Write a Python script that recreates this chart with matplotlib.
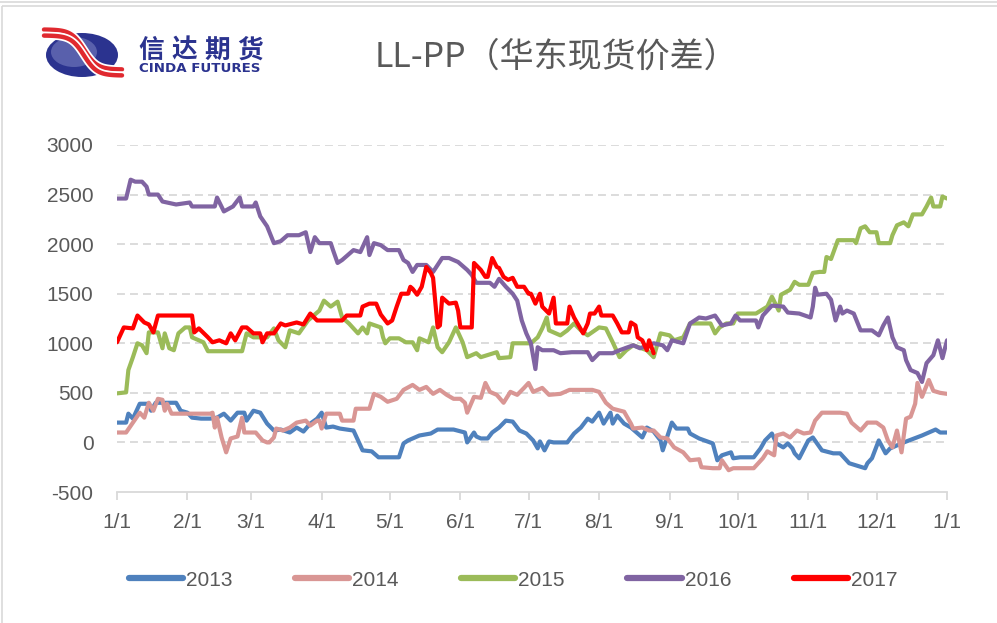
import numpy as np
import matplotlib
matplotlib.use("Agg")
import matplotlib.pyplot as plt
from matplotlib.patches import Ellipse, Rectangle
from matplotlib.lines import Line2D

# ---------------- data (day of year, value) ----------------
MONTH_START_DAYS = [0, 31, 59, 90, 120, 151, 181, 212, 243, 273, 304, 334, 365]
MONTH_LABELS = ["1/1", "2/1", "3/1", "4/1", "5/1", "6/1", "7/1", "8/1", "9/1",
                "10/1", "11/1", "12/1", "1/1"]
Y_TICKS = [-500, 0, 500, 1000, 1500, 2000, 2500, 3000]
SERIES_NAMES = ["2013", "2014", "2015", "2016", "2017"]
SERIES_COLORS = ["#4F81BD", "#D99694", "#9BBB59", "#8064A2", "#FF0000"]

S2013 = [(0,200),(4,200),(5,290),(7,240),(10,390),(14,390),(15,320),(17,400),(26,400),(28,320),
         (31,300),(33,250),(37,240),(41,240),(44,250),(47,290),(50,220),(53,300),(56,300),(57,220),
         (60,320),(63,300),(66,190),(69,120),(72,130),(76,100),(79,150),(82,110),(85,190),(88,240),
         (90,300),(92,150),(95,160),(98,140),(104,120),(106,20),(108,-80),(112,-90),(115,-150),
         (124,-150),(126,-10),(128,20),(133,70),(138,90),(141,130),(148,130),(153,100),(154,0),
         (157,100),(158,60),(160,40),(163,40),(165,100),(168,150),(171,220),(174,210),(177,120),
         (180,90),(183,20),(185,-60),(186,10),(188,-80),(190,10),(192,0),(198,0),(201,90),(204,150),
         (207,240),(209,210),(212,300),(214,190),(217,300),(218,190),(220,270),(223,190),(226,150),
         (231,50),(233,150),(236,110),(239,20),(240,-80),(244,200),(246,140),(251,140),(252,90),
         (256,40),(262,-10),(264,-180),(266,-130),(270,-100),(271,-160),(274,-150),(280,-150),
         (283,-60),(285,20),(288,90),(290,-10),(293,-50),(295,-10),(297,-60),(298,-110),(300,-160),
         (304,20),(306,50),(310,-80),(315,-110),(318,-110),(322,-210),(329,-260),(330,-210),
         (332,-160),(335,20),(338,-110),(340,-60),(346,0),(354,70),(360,130),(362,100),(365,100)]

S2014 = [(0,100),(4,100),(7,200),(10,300),(12,250),(14,400),(16,320),(18,440),(20,430),(21,320),
         (22,390),(24,290),(41,290),(42,300),(43,150),(44,250),(46,50),(48,-100),(50,40),(53,60),
         (55,250),(56,100),(61,100),(64,20),(66,0),(67,0),(69,50),(70,140),(73,120),(76,150),
         (79,200),(83,220),(85,170),(88,220),(89,220),(90,140),(92,290),(98,290),(99,220),(104,220),
         (105,340),(111,340),(113,490),(116,460),(119,410),(123,440),(126,530),(130,580),(133,530),
         (136,560),(139,490),(142,530),(145,480),(148,440),(151,440),(153,400),(154,300),(157,460),
         (160,450),(162,600),(164,510),(167,480),(170,400),(173,510),(176,480),(179,550),(181,600),
         (183,510),(187,550),(190,480),(195,490),(199,530),(204,530),(209,530),(212,510),(215,400),
         (218,340),(223,310),(226,190),(227,140),(231,150),(234,120),(236,120),(239,50),(242,40),
         (245,-50),(249,-100),(252,-180),(256,-170),(257,-250),(262,-260),(265,-260),(266,-180),
         (269,-280),(271,-260),(280,-260),(282,-210),(284,-160),(286,-90),(289,-130),(290,70),
         (293,90),(296,50),(299,120),(302,90),(305,100),(307,220),(310,300),(318,300),(321,290),
         (323,200),(327,120),(330,200),(334,200),(337,150),(339,20),(341,-50),(343,120),(345,-100),
         (347,240),(349,260),(351,390),(352,600),(354,460),(357,630),(359,520),(362,500),(365,490)]

S2015 = [(0,495),(4,505),(5,730),(7,860),(9,1000),(11,980),(13,900),(14,1110),(18,1110),(20,950),
         (21,1100),(23,950),(25,930),(27,1100),(30,1160),(32,1160),(33,1060),(38,1010),(40,920),
         (55,920),(57,1100),(60,1060),(66,1060),(69,1150),(71,1030),(74,960),(76,1130),(80,1100),
         (84,1230),(89,1330),(91,1430),(94,1370),(97,1420),(99,1260),(102,1200),(106,1100),
         (108,1160),(110,1100),(111,1200),(116,1160),(117,1060),(118,1000),(120,1050),(124,1050),
         (127,1010),(130,1010),(132,930),(133,1050),(137,1010),(139,1160),(141,960),(143,910),
         (146,1010),(149,1160),(152,1010),(154,860),(158,900),(160,860),(167,910),(168,850),
         (173,860),(174,1000),(182,1000),(185,1060),(187,1150),(189,1260),(190,1130),(195,1080),
         (198,1130),(201,1200),(204,1130),(207,1080),(212,1160),(215,1150),(218,1010),(221,860),
         (224,930),(227,980),(233,930),(236,860),(239,1100),(243,1080),(245,1030),(249,1060),
         (252,1200),(256,1200),(261,1200),(263,1100),(265,1160),(268,1200),(271,1200),(273,1300),
         (281,1300),(286,1370),(288,1470),(291,1330),(292,1490),(296,1540),(298,1620),(300,1590),
         (304,1590),(306,1710),(309,1720),(311,1720),(312,1870),(314,1850),(317,2040),(324,2040),
         (325,2010),(327,2160),(329,2180),(331,2120),(334,2120),(335,2010),(340,2010),(341,2090),
         (343,2190),(346,2220),(348,2180),(350,2300),(354,2300),(356,2380),(358,2470),(359,2380),
         (362,2380),(363,2480),(365,2460)]

S2016 = [(0,2460),(4,2460),(6,2650),(8,2630),(11,2630),(13,2580),(14,2500),(18,2500),(20,2430),
         (26,2400),(32,2420),(33,2380),(43,2380),(44,2470),(47,2330),(51,2380),(54,2470),(55,2380),
         (60,2380),(61,2420),(63,2280),(66,2180),(69,2010),(72,2030),(75,2090),(80,2090),(83,2120),
         (85,1920),(87,2070),(89,2010),(94,2010),(95,1940),(97,1810),(99,1840),(104,1940),(107,1920),
         (110,2070),(111,1890),(113,2010),(116,1990),(119,1940),(124,1940),(126,1840),(128,1810),
         (130,1720),(132,1790),(136,1790),(139,1720),(143,1860),(146,1860),(150,1820),(154,1740),
         (156,1690),(158,1610),(164,1610),(166,1570),(168,1650),(171,1570),(174,1500),(176,1430),
         (178,1230),(180,1100),(182,1000),(184,740),(185,960),(187,930),(192,930),(195,900),
         (200,910),(207,910),(209,830),(212,900),(218,900),(221,930),(227,980),(230,950),(236,1000),
         (240,980),(242,930),(244,1030),(249,1000),(252,1200),(256,1260),(259,1250),(263,1280),
         (266,1180),(270,1200),(272,1280),(274,1230),(281,1230),(282,1160),(284,1280),(288,1380),
         (293,1370),(295,1310),(300,1300),(305,1260),(306,1370),(307,1560),(308,1490),(312,1500),
         (314,1440),(316,1230),(318,1370),(319,1300),(321,1330),(324,1300),(327,1130),(332,1130),
         (335,1080),(337,1180),(339,1260),(341,1060),(343,960),(346,930),(347,830),(349,730),
         (352,700),(354,610),(356,800),(359,880),(361,1030),(363,850),(365,1030)]

S2017 = [(0,1010),(3,1160),(7,1150),(9,1280),(12,1210),(14,1190),(16,1110),(18,1280),(33,1280),
         (34,1110),(36,1150),(40,1060),(42,1010),(45,1030),(48,1000),(50,1100),(52,1030),(55,1160),
         (57,1160),(60,1100),(63,1100),(64,1010),(66,1100),(69,1100),(72,1200),(74,1180),(79,1210),
         (82,1190),(85,1300),(88,1230),(99,1230),(101,1280),(107,1280),(108,1370),(111,1400),
         (114,1400),(116,1290),(119,1200),(121,1230),(123,1370),(125,1500),(128,1500),(129,1570),
         (130,1550),(132,1490),(134,1570),(136,1770),(138,1710),(139,1660),(141,1160),(142,1180),
         (143,1460),(146,1400),(149,1410),(150,1330),(151,1160),(156,1160),(157,1810),(160,1740),
         (162,1670),(163,1670),(165,1860),(167,1770),(168,1760),(170,1670),(172,1640),(174,1660),
         (176,1570),(179,1570),(181,1500),(182,1500),(184,1400),(186,1500),(187,1370),(190,1300),
         (192,1460),(193,1200),(198,1200),(199,1370),(201,1260),(203,1180),(205,1100),(207,1200),
         (208,1300),(210,1300),(212,1370),(213,1280),(218,1280),(220,1200),(222,1110),(225,1110),
         (226,1210),(228,1180),(229,1060),(231,1030),(233,930),(234,1030),(236,900)]

ALL_SERIES = [S2013, S2014, S2015, S2016, S2017]

# ---------------- figure ----------------
W, H = 997, 623
plt.rcParams['font.family'] = ['Liberation Sans', 'Noto Sans CJK SC', 'DejaVu Sans']
fig = plt.figure(figsize=(W / 100, H / 100), dpi=100)
fig.patch.set_facecolor('white')

# overlay in pixel coordinates: frame and logo
ov = fig.add_axes([0, 0, 1, 1], zorder=0)
ov.set_xlim(0, W)
ov.set_ylim(H, 0)
ov.axis('off')
ov.plot([0, W], [1.5, 1.5], color='#D9D9D9', lw=1.2)
ov.add_patch(Rectangle((1.5, 5.5), W + 10, H + 10, fill=False, ec='#D9D9D9', lw=1.2))

# logo
ov.add_patch(Ellipse((82, 55), 72, 44, fc='#2B338F', ec='none'))
ov.add_patch(Ellipse((74, 52), 46, 30, fc='#7F86C4', ec='none', alpha=0.55))
t = np.linspace(0, 1, 100)
for off, lw in [(-4.5, 3.2), (1.5, 3.2)]:
    xs = 44 + 78 * t
    ys = 34 + 40 / (1 + np.exp(-(xs - 84) / 6.5)) + off
    ov.plot(xs, ys, color='white', lw=lw + 2.5, solid_capstyle='round')
    ov.plot(xs, ys, color='#E0292F', lw=lw, solid_capstyle='round')
for ch, cx in zip("信达期货", [151, 184, 217, 250]):
    ov.text(cx, 50, ch, family=['Noto Sans CJK SC'], fontsize=18.5, fontweight='bold',
            color='#2B338F', ha='center', va='center')
ov.text(200, 69, "CINDA FUTURES", family=['DejaVu Sans'], fontsize=9.6, fontweight='bold',
        color='#2B338F', ha='center', va='center')

# title
ov.text(556, 57, "LL-PP（华东现货价差）", family=['Noto Sans CJK SC'], fontsize=24.5,
        color='#595959', ha='center', va='center')

# main axes
ax = fig.add_axes([117 / W, 1 - 492 / H, 830 / W, 347 / H], zorder=2)
ax.set_facecolor('none')
ax.set_xlim(0, 365)
ax.set_ylim(-500, 3000)

for v in Y_TICKS[1:]:
    ax.axhline(v, color='#D9D9D9', lw=1.3, ls=(0, (4.4, 2.8)), zorder=1)

for name, color, s in zip(SERIES_NAMES, SERIES_COLORS, ALL_SERIES):
    d, v = zip(*s)
    ax.plot(d, v, color=color, lw=3.0, solid_joinstyle='round', solid_capstyle='round',
            zorder=3, label=name)

for sp in ['left', 'right', 'top']:
    ax.spines[sp].set_visible(False)
ax.spines['bottom'].set_color('#D9D9D9')
ax.spines['bottom'].set_linewidth(1.3)

ax.set_yticks(Y_TICKS)
ax.set_yticklabels([str(v) for v in Y_TICKS])
ax.set_xticks(MONTH_START_DAYS)
ax.set_xticklabels(MONTH_LABELS)
ax.tick_params(axis='y', length=0, pad=17, labelsize=15, labelcolor='#595959')
ax.tick_params(axis='x', length=6, width=1.3, color='#D9D9D9', direction='out', pad=9,
               labelsize=15, labelcolor='#595959')

handles = [Line2D([0], [0], color=c, lw=4.5, solid_capstyle='round') for c in SERIES_COLORS]
leg = fig.legend(handles, SERIES_NAMES, loc='center', bbox_to_anchor=(513 / W, 1 - 580 / H),
                 ncol=5, frameon=False, fontsize=15, handlelength=2.6, handletextpad=0.15,
                 columnspacing=3.0, labelcolor='#595959')

fig.savefig("out.png", dpi=100, facecolor='white')
